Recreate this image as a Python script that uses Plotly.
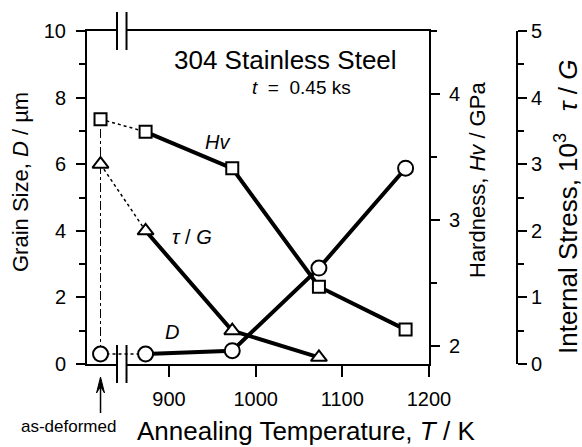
import plotly.graph_objects as go

# ---------------- data ----------------
anneal_T = [873, 973, 1073, 1173]           # annealing temperature, K
as_deformed_T = 821                          # plotting position of the as-deformed state
grain_size_D = [0.3, 0.4, 2.88, 5.88]        # grain size D, um
grain_size_D_as = 0.3
hardness_Hv = [3.70, 3.41, 2.47, 2.13]       # hardness Hv, GPa
hardness_Hv_as = 3.80
stress_T = [873, 973, 1073]
stress_tauG = [2.0, 0.5, 0.1]                # 10^3 tau/G
stress_tauG_as = 3.0

x_ticks = [900, 1000, 1100, 1200]
x_range = [805.4, 1200]
d_range = [0, 10]
hv_range = [1.857, 4.5]
tau_range = [0, 5]
break_lo, break_hi = 840, 851

# ---------------- style ----------------
FONT = "Liberation Sans, Arial, Helvetica, sans-serif"
W, H = 582, 447
ML, MT = 87, 31
PW = 552 - ML
PH = 364 - 31
MR, MB = W - ML - PW, H - MT - PH
X_END = (429 - 87) / PW        # end of x domain (hardness axis)
TAU_POS = (517 - 87) / PW      # position of the stress axis
K_PER_PX = (x_range[1] - x_range[0]) / (429 - 87)
NB = "\u00a0"


def px(xp):      # reference pixel x -> paper
    return (xp - 87) / PW


def py(yp):      # reference pixel y -> paper
    return (364 - yp) / PH


fig = go.Figure()

solid = dict(color="black", width=4)
dotted = dict(color="black", width=1.5, dash="dot")
mk = lambda sym, size: dict(symbol=sym, size=size, color="white",
                            line=dict(color="black", width=2))

# dash-dot vertical link at as-deformed (from circle to square), on D axis
hv_as_in_D = d_range[0] + (hardness_Hv_as - hv_range[0]) / (hv_range[1] - hv_range[0]) * (d_range[1] - d_range[0])
fig.add_trace(go.Scatter(x=[as_deformed_T, as_deformed_T], y=[grain_size_D_as, hv_as_in_D],
                         mode="lines", line=dict(color="black", width=1, dash="dashdot"),
                         yaxis="y", showlegend=False, hoverinfo="skip"))

# Grain size D (circles, left axis)
fig.add_trace(go.Scatter(x=[as_deformed_T, anneal_T[0]], y=[grain_size_D_as, grain_size_D[0]],
                         mode="lines", line=dotted, yaxis="y", showlegend=False))
fig.add_trace(go.Scatter(x=anneal_T, y=grain_size_D, mode="lines+markers", line=solid,
                         marker=mk("circle", 15), yaxis="y", name="D", showlegend=False))
fig.add_trace(go.Scatter(x=[as_deformed_T], y=[grain_size_D_as], mode="markers",
                         marker=mk("circle", 15), yaxis="y", showlegend=False))

# Hardness Hv (squares, right axis)
fig.add_trace(go.Scatter(x=[as_deformed_T, anneal_T[0]], y=[hardness_Hv_as, hardness_Hv[0]],
                         mode="lines", line=dotted, yaxis="y2", showlegend=False))
fig.add_trace(go.Scatter(x=anneal_T, y=hardness_Hv, mode="lines+markers", line=solid,
                         marker=mk("square", 12), yaxis="y2", name="Hv", showlegend=False))
fig.add_trace(go.Scatter(x=[as_deformed_T], y=[hardness_Hv_as], mode="markers",
                         marker=mk("square", 12), yaxis="y2", showlegend=False))

# Internal stress tau/G (triangles, far right axis)
fig.add_trace(go.Scatter(x=[as_deformed_T, stress_T[0]], y=[stress_tauG_as, stress_tauG[0]],
                         mode="lines", line=dotted, yaxis="y3", showlegend=False))
fig.add_trace(go.Scatter(x=stress_T, y=stress_tauG, mode="lines+markers", line=solid,
                         marker=mk("triangle-up", 14), yaxis="y3", name="τ/G", showlegend=False))
fig.add_trace(go.Scatter(x=[as_deformed_T], y=[stress_tauG_as], mode="markers",
                         marker=mk("triangle-up", 14), yaxis="y3", showlegend=False))

tickfont = dict(family=FONT, size=20, color="black")
common_y = dict(showline=True, linecolor="black", linewidth=2, ticks="outside",
                tickcolor="black", tickwidth=2, ticklen=9, showgrid=False,
                zeroline=False, tickfont=tickfont, automargin=False)

fig.update_layout(
    width=W, height=H,
    margin=dict(l=ML, r=MR, t=MT, b=MB, pad=0, autoexpand=False),
    paper_bgcolor="white", plot_bgcolor="white",
    font=dict(family=FONT, color="black"),
    showlegend=False,
    xaxis=dict(domain=[0, X_END], range=x_range, tickvals=x_ticks,
               showline=True, mirror=True, linecolor="black", linewidth=2,
               ticks="outside", ticklen=11, tickwidth=2, tickcolor="black",
               showgrid=False, zeroline=False, tickfont=tickfont,
               ticklabelstandoff=5, automargin=False),
    yaxis=dict(range=d_range, tick0=0, dtick=2,
               minor=dict(dtick=1, ticks="outside", ticklen=6, tickwidth=2, tickcolor="black"),
               ticklabelstandoff=6, **common_y),
    yaxis2=dict(range=hv_range, tick0=2, dtick=1, overlaying="y", side="right", anchor="x",
                minor=dict(tick0=2, dtick=0.5, ticks="outside", ticklen=6, tickwidth=2, tickcolor="black"),
                ticklabelstandoff=5, **common_y),
    yaxis3=dict(range=tau_range, tick0=0, dtick=1, overlaying="y", side="right",
                anchor="free", position=TAU_POS,
                minor=dict(dtick=0.5, ticks="outside", ticklen=6, tickwidth=2, tickcolor="black"),
                ticklabelstandoff=0, **common_y),
)

# axis breaks (bottom and top frame)
for yc in (0, 1):
    fig.add_shape(type="rect", xref="x", yref="paper", x0=break_lo, x1=break_hi,
                  y0=yc - 0.012, y1=yc + 0.012, fillcolor="white", line_width=0, layer="above")
    for xb in (break_lo, break_hi):
        fig.add_shape(type="line", xref="x", yref="paper", x0=xb, x1=xb,
                      y0=yc - 0.057, y1=yc + 0.057, line=dict(color="black", width=2),
                      layer="above")

# arrow pointing at the as-deformed position (shaft + head)
a_top, a_bot = py(377), py(413)
head_h = 16 / PH
head_w = 4 * K_PER_PX
fig.add_shape(type="line", xref="x", yref="paper", x0=as_deformed_T, x1=as_deformed_T,
              y0=a_bot, y1=a_top - head_h * 0.5, line=dict(color="black", width=1.5))
fig.add_shape(type="path", xref="x", yref="paper",
              path=(f"M {as_deformed_T - head_w},{a_top - head_h} L {as_deformed_T},{a_top} "
                    f"L {as_deformed_T + head_w},{a_top - head_h} "
                    f"L {as_deformed_T},{a_top - head_h * 0.6} Z"),
              fillcolor="black", line=dict(color="black", width=1))

ann = []
def txt(text, x, y, size, angle=0):
    ann.append(dict(text=text, x=x, y=y, xref="paper", yref="paper", showarrow=False,
                    xanchor="center", yanchor="middle", textangle=angle,
                    font=dict(family=FONT, size=size, color="black")))

txt("Annealing Temperature, <i>T</i> / K", px(306), py(431), 26)
txt("Grain Size, <i>D</i> / µm", px(20), py(182), 22, -90)
txt("Hardness, <i>Hv</i> / GPa", px(477), py(180), 22, -90)
txt(f"Internal Stress, 10<sup>3</sup>{NB}{NB}{NB}<i>τ</i>{NB}/{NB}<i>G</i>", px(566), py(207), 26, -90)
txt("304 Stainless Steel", px(285), py(60), 26)
txt(f"<i>t</i>{NB}{NB}={NB}{NB}0.45 ks", px(301), py(87), 19)
txt("<i>Hv</i>", px(217), py(142), 20)
txt("<i>τ</i> / <i>G</i>", px(192), py(237), 20)
txt("<i>D</i>", px(172), py(332), 20)
txt("as-deformed", px(68), py(426), 17)
fig.update_layout(annotations=ann)

fig.write_html("out.html", config={"displayModeBar": False},
               post_script="document.body.style.margin='0';document.body.style.overflow='hidden';")
